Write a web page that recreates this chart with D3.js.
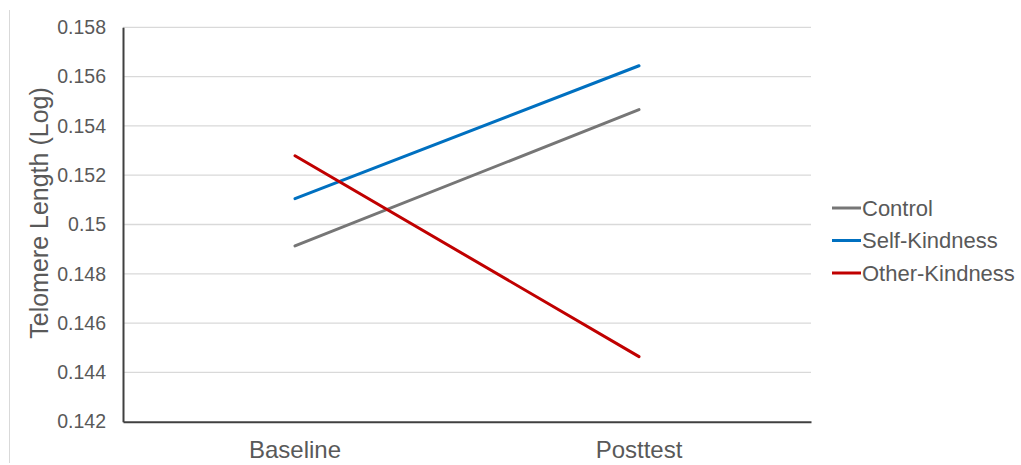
<!DOCTYPE html>
<html><head><meta charset="utf-8">
<script src="https://cdn.jsdelivr.net/npm/d3@7"></script>
<style>body{margin:0;background:#fff;}svg{display:block;font-family:"Liberation Sans",Arial,sans-serif;}</style>
</head><body>
<svg id="c" width="1021" height="465"></svg>
<script>
const categories = ["Baseline", "Posttest"];
const seriesNames = ["Control", "Self-Kindness", "Other-Kindness"];
const controlValues = [0.14913, 0.15466];
const selfKindnessValues = [0.15105, 0.15644];
const otherKindnessValues = [0.15279, 0.14464];
const yTicks = [0.142, 0.144, 0.146, 0.148, 0.15, 0.152, 0.154, 0.156, 0.158];
const colors = ["#767676", "#0070C0", "#C00000"];

(function () {
const series = [
  {name: seriesNames[0], values: controlValues, color: colors[0]},
  {name: seriesNames[1], values: selfKindnessValues, color: colors[1]},
  {name: seriesNames[2], values: otherKindnessValues, color: colors[2]}
];

const svg = d3.select("#c");
const pLeft = 123, pRight = 811, pTop = 27.3, pBottom = 421.7;

// outer left border
svg.append("line").attr("x1",9.5).attr("x2",9.5).attr("y1",10).attr("y2",463)
  .attr("stroke","#d9d9d9").attr("stroke-width",1);

const x = d3.scaleBand().domain(categories).range([pLeft, pRight]);
const y = d3.scaleLinear().domain([0.142, 0.158]).range([pBottom, pTop]);

// gridlines
svg.append("g").selectAll("line").data(yTicks.filter(t => t > 0.142)).join("line")
  .attr("x1", pLeft).attr("x2", pRight)
  .attr("y1", d => y(d)).attr("y2", d => y(d))
  .attr("stroke", "#d9d9d9").attr("stroke-width", 1.3);

// y axis
const yAxis = d3.axisLeft(y).tickValues(yTicks).tickSize(0).tickPadding(17)
  .tickFormat(d => String(+d.toFixed(3)));
const gy = svg.append("g").attr("transform", `translate(${pLeft},0)`).call(yAxis);
gy.select(".domain").attr("stroke", "#404040").attr("stroke-width", 2);
gy.selectAll("text").attr("fill", "#595959").attr("font-size", 19.5)
  .attr("font-family", '"Liberation Sans",Arial,sans-serif');

// x axis
const xAxis = d3.axisBottom(x).tickSize(0).tickPadding(19);
const gx = svg.append("g").attr("transform", `translate(0,${pBottom})`).call(xAxis);
gx.select(".domain").attr("stroke", "#404040").attr("stroke-width", 2);
gx.selectAll("text").attr("fill", "#595959").attr("font-size", 24)
  .attr("font-family", '"Liberation Sans",Arial,sans-serif');

// y title
svg.append("text").attr("transform", `translate(48,213) rotate(-90)`)
  .attr("text-anchor", "middle").attr("fill", "#595959").attr("font-size", 25)
  .text("Telomere Length (Log)");

// lines
const line = d3.line().x((d, i) => x(categories[i]) + x.bandwidth()/2).y(d => y(d));
svg.append("g").selectAll("path").data(series).join("path")
  .attr("d", d => line(d.values))
  .attr("fill", "none").attr("stroke", d => d.color)
  .attr("stroke-width", 3).attr("stroke-linecap", "round");

// legend
const lg = svg.append("g").selectAll("g").data(series).join("g")
  .attr("transform", (d, i) => `translate(832,${208 + i*32.5})`);
lg.append("line").attr("x1", 0).attr("x2", 29).attr("stroke", d => d.color).attr("stroke-width", 3);
lg.append("text").attr("x", 30).attr("dy", "0.35em").attr("fill", "#595959")
  .attr("font-size", 22).text(d => d.name);
})();
</script>
</body></html>
